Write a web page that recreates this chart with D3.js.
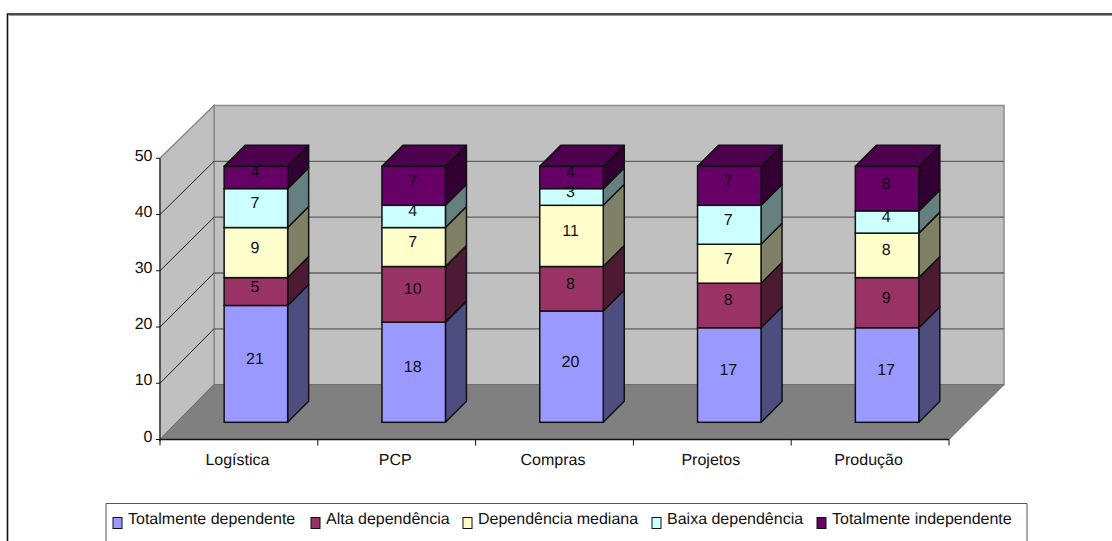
<!DOCTYPE html>
<html><head><meta charset="utf-8">
<script src="https://cdn.jsdelivr.net/npm/d3@7"></script>
<style>html,body{margin:0;padding:0;background:#fff;overflow:hidden}svg{display:block}text{font-family:"Liberation Sans",Arial,sans-serif;fill:#111;text-rendering:geometricPrecision}</style>
</head><body><svg id="c" width="1112" height="541"></svg>
<script>
const categories=["Logística","PCP","Compras","Projetos","Produção"];
const seriesNames=["Totalmente dependente","Alta dependência","Dependência mediana","Baixa dependência","Totalmente independente"];
const totalmenteDependente=[21,18,20,17,17];
const altaDependencia=[5,10,8,8,9];
const dependenciaMediana=[9,7,11,7,8];
const baixaDependencia=[7,4,3,7,4];
const totalmenteIndependente=[4,7,4,7,8];
const yTicks=[0,10,20,30,40,50];
const frontColors=["#9999ff","#993366","#ffffcc","#ccffff","#660066"];
const sideColors=["#4d4d80","#4d1a33","#808066","#668080","#330033"];
const topColor="#4d004d";
const legendX=[113,311,463,652,817];
const seriesValues=[totalmenteDependente,altaDependencia,dependenciaMediana,baixaDependencia,totalmenteIndependente];

const svg=d3.select("#c");
const FS=16;
// frame
svg.append("path").attr("d","M7.5,541V14H1112").attr("fill","none").attr("stroke","#111").attr("stroke-width",1.6);
svg.append("path").attr("d","M9,15.5H1112").attr("fill","none").attr("stroke","#999").attr("stroke-width",1);

const x=d3.scaleBand().domain(categories).range([160,949]);
const yFront=d3.scaleLinear().domain([0,50]).range([439.5,158.3]);
const yWall=d3.scaleLinear().domain([0,50]).range([384.7,105.5]);
const yBar=d3.scaleLinear().domain([0,50]).range([422.3,144.1]);
const wallX0=214,wallX1=1004,frontX0=160,frontX1=949;

// walls and floor
svg.append("polygon").attr("points",[[wallX0,yWall(50)],[wallX1,yWall(50)],[wallX1,yWall(0)],[wallX0,yWall(0)]].join(" ")).attr("fill","#c0c0c0").attr("stroke","#8c8c8c").attr("stroke-width",1.5);
svg.append("polygon").attr("points",[[frontX0,yFront(50)],[wallX0,yWall(50)],[wallX0,yWall(0)],[frontX0,yFront(0)]].join(" ")).attr("fill","#c0c0c0").attr("stroke","#8c8c8c").attr("stroke-width",1.5);
svg.append("polygon").attr("points",[[frontX0,yFront(0)],[wallX0,yWall(0)],[wallX1,yWall(0)],[frontX1,yFront(0)]].join(" ")).attr("fill","#808080").attr("stroke","#6e6e6e").attr("stroke-width",1);
// gridlines
yTicks.filter(d=>d>0).forEach(t=>{
  svg.append("line").attr("x1",frontX0).attr("y1",yFront(t)).attr("x2",wallX0).attr("y2",yWall(t)).attr("stroke",t==50?"#8c8c8c":"#222").attr("stroke-width",1);
  if(t<50) svg.append("line").attr("x1",wallX0).attr("y1",yWall(t)).attr("x2",wallX1).attr("y2",yWall(t)).attr("stroke","#5f5f5f").attr("stroke-width",1.3);
});
// axes
const axisY=svg.append("g");
axisY.append("line").attr("x1",frontX0).attr("x2",frontX0).attr("y1",yFront(50)).attr("y2",yFront(0)+2).attr("stroke","#111").attr("stroke-width",1);
yTicks.forEach(t=>{
  axisY.append("line").attr("x1",frontX0-4).attr("x2",frontX0).attr("y1",yFront(t)).attr("y2",yFront(t)).attr("stroke","#111");
  axisY.append("text").attr("x",frontX0-7.5).attr("y",yFront(t)+2.2).attr("text-anchor","end").attr("font-size",FS).text(t);
});
const axisX=svg.append("g");
axisX.append("line").attr("x1",frontX0).attr("x2",frontX1).attr("y1",yFront(0)).attr("y2",yFront(0)).attr("stroke","#111").attr("stroke-width",1.6);
d3.range(6).forEach(i=>{
  const px=frontX0+i*x.bandwidth();
  axisX.append("line").attr("x1",px).attr("x2",px).attr("y1",yFront(0)).attr("y2",yFront(0)+6).attr("stroke","#111");
});
categories.forEach(c=>{
  axisX.append("text").attr("x",x(c)+x.bandwidth()/2-1.5).attr("y",465).attr("text-anchor","middle").attr("font-size",FS).text(c);
});
// bars
const barW=63.5,dx=21,dy=21,shift=17;
categories.forEach((c,ci)=>{
  const left=x(c)+x.bandwidth()/2+shift-barW/2;
  const g=svg.append("g");
  let acc=0;
  const labels=[];
  seriesValues.forEach((vals,si)=>{
    const v=vals[ci],y0=yBar(acc),y1=yBar(acc+v);
    g.append("polygon").attr("points",[[left+barW,y1],[left+barW+dx,y1-dy],[left+barW+dx,y0-dy],[left+barW,y0]].join(" ")).attr("fill",sideColors[si]).attr("stroke","#111").attr("stroke-width",1.5).attr("stroke-linejoin","round");
    g.append("rect").attr("x",left).attr("y",y1).attr("width",barW).attr("height",y0-y1).attr("fill",frontColors[si]).attr("stroke","#111").attr("stroke-width",1.5);
    labels.push({v,y:(y0+y1)/2});
    acc+=v;
  });
  const yt=yBar(acc);
  g.append("polygon").attr("points",[[left,yt],[left+dx,yt-dy],[left+barW+dx,yt-dy],[left+barW,yt]].join(" ")).attr("fill",topColor).attr("stroke","#111").attr("stroke-width",1.5).attr("stroke-linejoin","round");
  labels.forEach(l=>{
    g.append("text").attr("x",left+barW/2-1).attr("y",l.y).attr("text-anchor","middle").attr("font-size",FS).text(l.v);
  });
});
// legend
svg.append("path").attr("d","M106,541V503.5H1027V541").attr("fill","none").attr("stroke","#555").attr("stroke-width",1);
seriesNames.forEach((n,i)=>{
  svg.append("rect").attr("x",legendX[i]).attr("y",517.5).attr("width",9).attr("height",11).attr("fill",frontColors[i]).attr("stroke","#111").attr("stroke-width",1);
  svg.append("text").attr("x",legendX[i]+15).attr("y",524.3).attr("font-size",FS).text(n);
});
</script></body></html>
